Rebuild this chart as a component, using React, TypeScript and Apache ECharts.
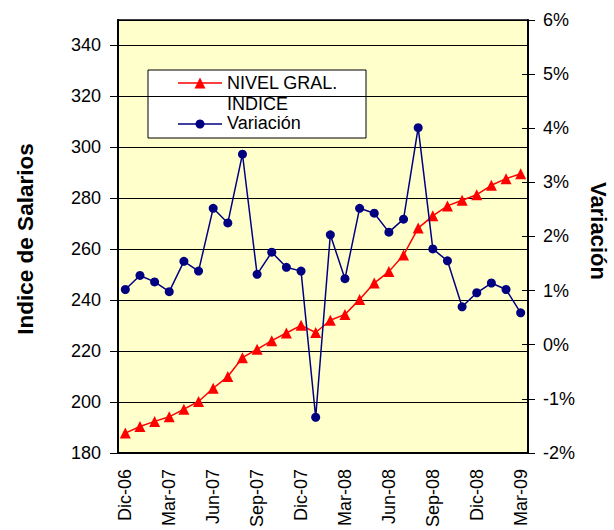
import React, { useEffect, useRef } from "react";
import * as echarts from "echarts";

const categories = [
  "Dic-06", "Ene-07", "Feb-07", "Mar-07", "Abr-07", "May-07", "Jun-07", "Jul-07",
  "Ago-07", "Sep-07", "Oct-07", "Nov-07", "Dic-07", "Ene-08", "Feb-08", "Mar-08",
  "Abr-08", "May-08", "Jun-08", "Jul-08", "Ago-08", "Sep-08", "Oct-08", "Nov-08",
  "Dic-08", "Ene-09", "Feb-09", "Mar-09",
];

const nivelGral = [
  187.8, 190.4, 192.4, 194.2, 197.2, 200.2, 205.4, 210.0, 217.4, 220.7, 224.1, 227.1,
  230.1, 227.3, 232.1, 234.4, 240.3, 246.7, 251.2, 257.7, 268.3, 273.1, 277.0, 279.2,
  281.4, 285.1, 287.7, 289.6,
];

const variacion = [
  1.02, 1.28, 1.16, 0.98, 1.54, 1.36, 2.52, 2.25, 3.52, 1.30, 1.71, 1.43,
  1.36, -1.34, 2.03, 1.22, 2.52, 2.43, 2.08, 2.32, 4.01, 1.77, 1.55, 0.70,
  0.96, 1.14, 1.02, 0.59,
];

const leftAxis = { min: 180, max: 350, interval: 20 };
const rightAxis = { min: -2, max: 6, interval: 1 };

const seriesNames = ["NIVEL GRAL. INDICE", "Variación"];
const legendLines = ["NIVEL GRAL.", "INDICE", "Variación"];
const axisTitles = { left: "Indice de Salarios", right: "Variación" };

const FONT = "'Liberation Sans', Arial, sans-serif";

export default function App() {
  const ref = useRef<HTMLDivElement>(null);

  useEffect(() => {
    if (!ref.current) return;
    const chart = echarts.init(ref.current, null, { renderer: "svg" });
    const labelStyle = { color: "#000", fontSize: 18, fontFamily: FONT };
    chart.setOption({
      animation: false,
      backgroundColor: "#fff",
      textStyle: { fontFamily: FONT },
      grid: {
        left: 118,
        right: 86,
        top: 20,
        bottom: 75,
        show: true,
        backgroundColor: "#FFFFCC",
        borderColor: "#000",
        borderWidth: 1.5,
      },
      xAxis: [
        {
          type: "category",
          data: categories,
          boundaryGap: true,
          axisLine: { onZero: false, lineStyle: { color: "#000", width: 2 } },
          axisTick: { interval: 2, length: 7, lineStyle: { color: "#000", width: 1 } },
          axisLabel: { ...labelStyle, interval: 2, rotate: 90, margin: 16 },
        },
        {
          type: "category",
          data: categories,
          boundaryGap: true,
          position: "bottom",
          axisLine: { show: false, onZero: false },
          axisTick: { interval: 2, inside: true, length: 5, lineStyle: { color: "#000", width: 1 } },
          axisLabel: { show: false },
        },
      ],
      yAxis: [
        {
          type: "value",
          position: "left",
          min: leftAxis.min,
          max: leftAxis.max,
          interval: leftAxis.interval,
          axisLine: { show: true, onZero: false, lineStyle: { color: "#000", width: 2 } },
          axisTick: { show: true, length: 8, lineStyle: { color: "#000" } },
          axisLabel: { ...labelStyle, margin: 17, showMaxLabel: false },
          splitLine: { show: true, lineStyle: { color: "#000", width: 1 } },
        },
        {
          type: "value",
          position: "right",
          min: rightAxis.min,
          max: rightAxis.max,
          interval: rightAxis.interval,
          axisLine: { show: true, onZero: false, lineStyle: { color: "#000", width: 2 } },
          axisTick: { show: true, length: 7, lineStyle: { color: "#000" } },
          axisLabel: { ...labelStyle, margin: 15, formatter: "{value}%" },
          splitLine: { show: false },
        },
        {
          type: "value",
          position: "right",
          min: rightAxis.min,
          max: rightAxis.max,
          interval: rightAxis.interval,
          axisLine: { show: false, onZero: false },
          axisTick: { show: true, inside: true, length: 6, lineStyle: { color: "#000" } },
          axisLabel: { show: false },
          splitLine: { show: false },
        },
      ],
      series: [
        {
          name: seriesNames[0],
          type: "line",
          xAxisIndex: 0,
          yAxisIndex: 0,
          data: nivelGral,
          symbol: "triangle",
          symbolSize: 11,
          showSymbol: true,
          showAllSymbol: true,
          lineStyle: { color: "#FF0000", width: 1.5 },
          itemStyle: { color: "#FF0000" },
          z: 3,
        },
        {
          name: seriesNames[1],
          type: "line",
          xAxisIndex: 0,
          yAxisIndex: 1,
          data: variacion,
          symbol: "circle",
          symbolSize: 9,
          showSymbol: true,
          showAllSymbol: true,
          lineStyle: { color: "#000080", width: 1.5 },
          itemStyle: { color: "#000080" },
          z: 4,
        },
      ],
      graphic: [
        {
          type: "group",
          z: 100,
          children: [
            {
              type: "rect",
              shape: { x: 148, y: 70, width: 218, height: 68 },
              style: { fill: "#fff", stroke: "#000", lineWidth: 1 },
            },
            {
              type: "line",
              shape: { x1: 178, y1: 83, x2: 222, y2: 83 },
              style: { stroke: "#FF0000", lineWidth: 1.5 },
            },
            {
              type: "polygon",
              shape: { points: [[200, 77.5], [205.5, 88.5], [194.5, 88.5]] },
              style: { fill: "#FF0000" },
            },
            {
              type: "text",
              x: 227,
              y: 83,
              style: { text: legendLines[0], fontSize: 18, fontFamily: FONT, fill: "#000", verticalAlign: "middle" },
            },
            {
              type: "text",
              x: 227,
              y: 104,
              style: { text: legendLines[1], fontSize: 18, fontFamily: FONT, fill: "#000", verticalAlign: "middle" },
            },
            {
              type: "line",
              shape: { x1: 178, y1: 124, x2: 222, y2: 124 },
              style: { stroke: "#000080", lineWidth: 1.5 },
            },
            {
              type: "circle",
              shape: { cx: 200, cy: 124, r: 4.5 },
              style: { fill: "#000080" },
            },
            {
              type: "text",
              x: 227,
              y: 123,
              style: { text: legendLines[2], fontSize: 18, fontFamily: FONT, fill: "#000", verticalAlign: "middle" },
            },
          ],
        },
        {
          type: "text",
          x: 25,
          y: 239,
          rotation: Math.PI / 2,
          style: {
            text: axisTitles.left,
            fontSize: 22.5,
            fontWeight: "bold",
            fontFamily: FONT,
            fill: "#000",
            align: "center",
            verticalAlign: "middle",
          },
        },
        {
          type: "text",
          x: 598,
          y: 231,
          rotation: -Math.PI / 2,
          style: {
            text: axisTitles.right,
            fontSize: 22,
            fontWeight: "bold",
            fontFamily: FONT,
            fill: "#000",
            align: "center",
            verticalAlign: "middle",
          },
        },
      ],
    });
    return () => chart.dispose();
  }, []);

  return (
    <div
      ref={ref}
      style={{ position: "fixed", left: 0, top: 0, width: 614, height: 530 }}
    />
  );
}
